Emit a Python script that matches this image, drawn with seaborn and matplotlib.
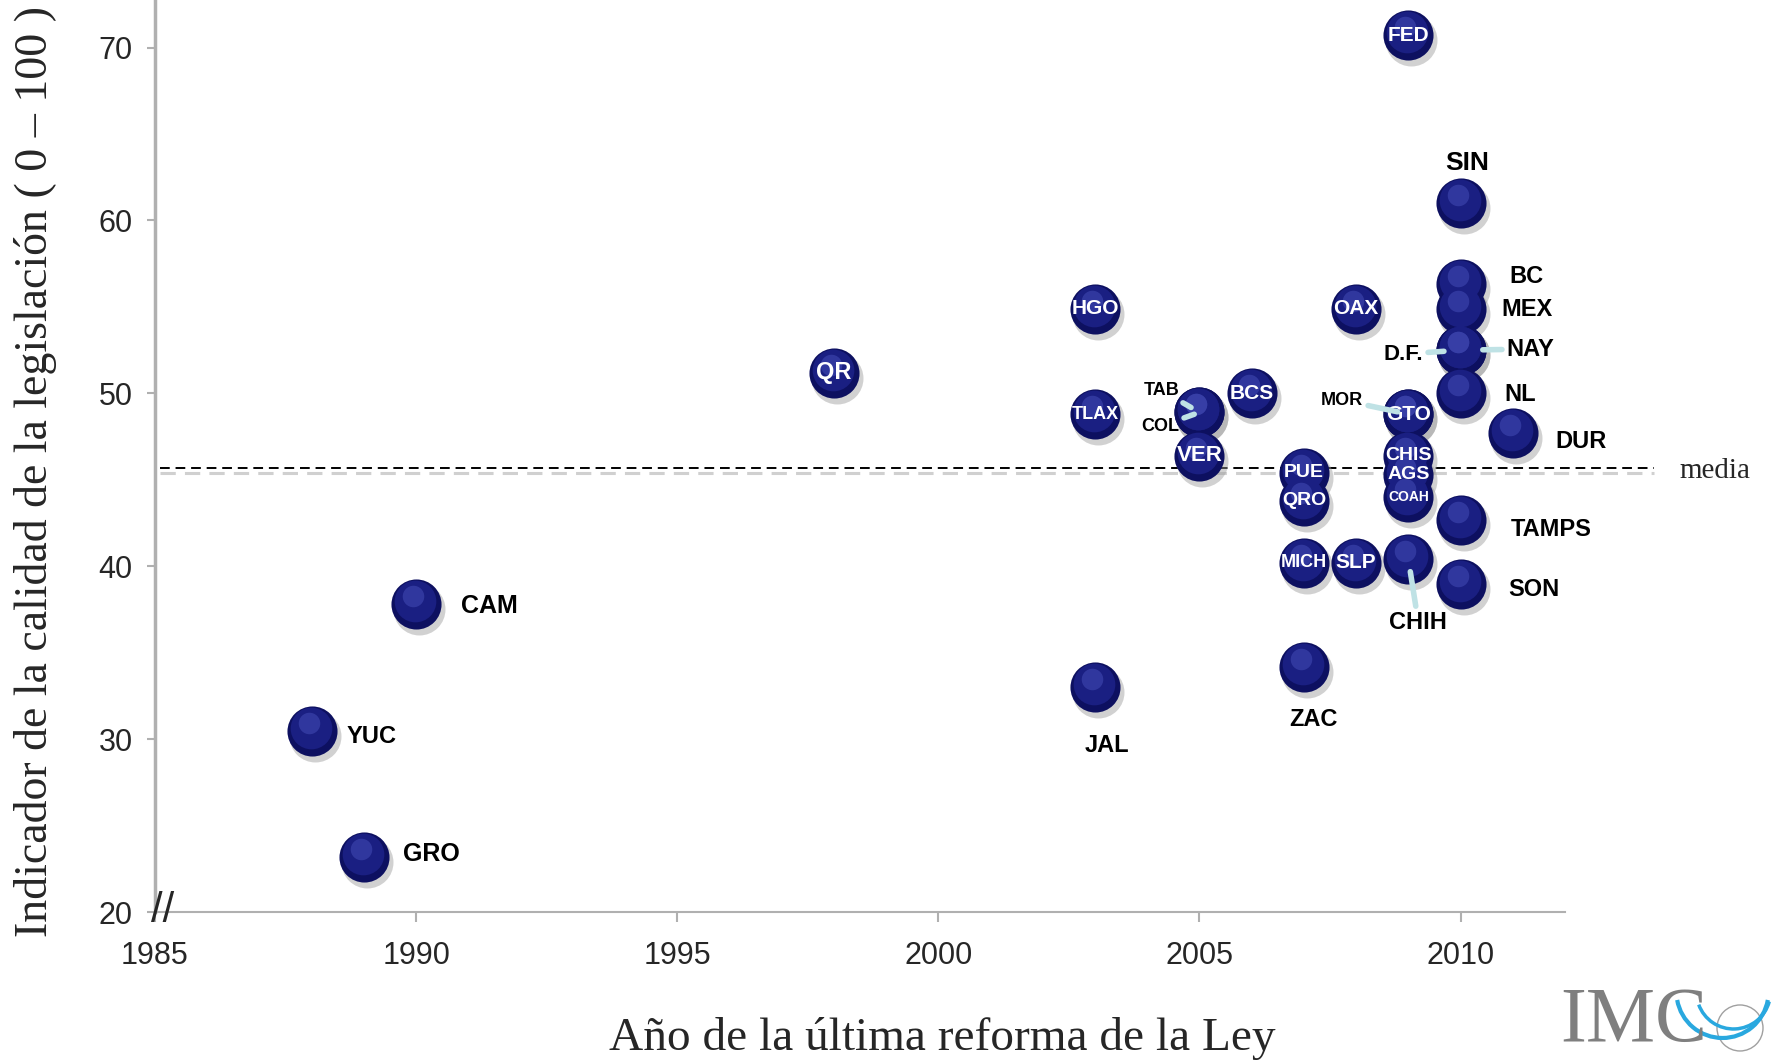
import numpy as np
import pandas as pd
import matplotlib
matplotlib.use("Agg")
import matplotlib.pyplot as plt
import seaborn as sns
from matplotlib.transforms import offset_copy
from matplotlib.patches import Arc, Circle

# data
states = ["FED", "SIN", "BC", "MEX", "HGO", "OAX", "NAY", "D.F.", "QR", "NL", "BCS",
          "TAB", "COL", "TLAX", "GTO", "MOR", "DUR", "VER", "CHIS", "PUE", "AGS",
          "COAH", "QRO", "TAMPS", "CHIH", "MICH", "SLP", "SON", "CAM", "ZAC", "JAL",
          "YUC", "GRO"]
years = [2009, 2010, 2010, 2010, 2003, 2008, 2010, 2010, 1998, 2010, 2006,
         2005, 2005, 2003, 2009, 2009, 2011, 2005, 2009, 2007, 2009,
         2009, 2007, 2010, 2009, 2007, 2008, 2010, 1990, 2007, 2003,
         1988, 1989]
scores = [70.7, 61.0, 56.3, 54.9, 54.9, 54.9, 52.5, 52.5, 51.2, 50.0, 50.0,
          48.9, 48.9, 48.8, 48.8, 48.8, 47.7, 46.4, 46.4, 45.4, 45.3,
          44.0, 43.8, 42.7, 40.4, 40.2, 40.2, 39.0, 37.8, 34.2, 33.0,
          30.5, 23.2]
media = 45.7

# labels drawn inside the bubbles (font size)
inner = {"FED": 15, "HGO": 15, "OAX": 15, "QR": 17, "BCS": 15, "TLAX": 13, "GTO": 15,
         "VER": 16, "CHIS": 14, "PUE": 14, "AGS": 14, "COAH": 10, "QRO": 14,
         "MICH": 13, "SLP": 15}
# labels outside: offset in pixels, font size
outer = {"SIN": (7, 40, 19), "BC": (66, 8, 17), "MEX": (66, -1, 17),
         "NAY": (70, 1, 17), "D.F.": (-57, -4, 16), "NL": (60, -1, 17),
         "DUR": (68, -8, 17), "TAMPS": (91, -10, 17), "SON": (73, -6, 17),
         "CHIH": (10, -63, 17), "CAM": (73, -2, 18), "ZAC": (10, -53, 17),
         "JAL": (12, -58, 17), "YUC": (60, -6, 17), "GRO": (68, 3, 18),
         "TAB": (-38, 22, 13), "COL": (-39, -14, 13), "MOR": (-66, 14, 13)}
# leader lines: how far (points) they stop short of the bubble centre
connectors = {"NAY": 16, "D.F.": 12, "TAB": 7, "COL": 4, "MOR": 8, "CHIH": 9}

df = pd.DataFrame({"estado": states, "anio": years, "indicador": scores})
df = df.sort_values("indicador", ascending=False, kind="stable")

sns.set_style("white")
narrow = ["Liberation Sans Narrow", "Liberation Sans", "DejaVu Sans"]
plt.rcParams["font.family"] = narrow

fig = plt.figure(figsize=(17.75, 10.62), dpi=100)
ax = fig.add_axes([0.0873, 0.1412, 0.7944, 0.8588])

# bubbles with a simple sphere look
shadow = offset_copy(ax.transData, fig=fig, x=3, y=-5, units="dots")
sns.scatterplot(data=df, x="anio", y="indicador", s=1400, color="#9a9a9a", alpha=0.45,
                linewidth=0, ax=ax, transform=shadow, legend=False, zorder=2)
sns.scatterplot(data=df, x="anio", y="indicador", s=1300, color="#0d1060",
                linewidth=0, ax=ax, legend=False, zorder=3)
mid = offset_copy(ax.transData, fig=fig, x=-1, y=3, units="dots")
ax.scatter(df["anio"], df["indicador"], s=900, color="#1a1f82", linewidth=0,
           transform=mid, zorder=3)
hi = offset_copy(ax.transData, fig=fig, x=-3, y=8, units="dots")
ax.scatter(df["anio"], df["indicador"], s=240, color="#3a42aa", alpha=0.7,
           linewidth=0, transform=hi, zorder=3)

for _, r in df.iterrows():
    name = r["estado"]
    if name in inner:
        ax.text(r["anio"], r["indicador"], name, color="white", fontsize=inner[name],
                fontweight="bold", ha="center", va="center", zorder=4)
    elif name in outer:
        dx, dy, fs = outer[name]
        props = None
        if name in connectors:
            props = dict(arrowstyle="-", color="#bfe2e5", lw=4, shrinkA=1,
                         shrinkB=connectors[name])
        ax.annotate(name, (r["anio"], r["indicador"]), xytext=(dx, dy),
                    textcoords="offset pixels", fontsize=fs, fontweight="bold",
                    ha="center", va="center", color="black", arrowprops=props,
                    zorder=5)

# media line
ax.plot([1985.1, 2013.7], [media, media], color="black", lw=1.4,
        dashes=(5, 3), clip_on=False, zorder=1)
ax.plot([1985.1, 2013.7], [media - 0.3, media - 0.3], color="#d0d0d0", lw=2.2,
        dashes=(5, 3), clip_on=False, zorder=1)
ax.text(2014.2, media - 0.2, "media", fontsize=21, family="Liberation Serif",
        ha="left", va="center")

ax.set_xlim(1985, 2012)
ax.set_ylim(20, 72.75)
ax.set_xticks(range(1985, 2011, 5))
ax.set_yticks(range(20, 71, 10))
ax.set_xlabel("")
ax.set_ylabel("")
for s in ["top", "right"]:
    ax.spines[s].set_visible(False)
for s in ["left", "bottom"]:
    ax.spines[s].set_color("#b0b0b0")
ax.spines["left"].set_linewidth(2.5)
ax.spines["bottom"].set_linewidth(1.5)
ax.tick_params(axis="x", length=7, width=1.5, color="#b0b0b0", pad=14, labelsize=22)
ax.tick_params(axis="y", length=6, width=1.5, color="#b0b0b0", pad=10, labelsize=22)
ax.tick_params(bottom=True, left=True)

# axis break mark
ax.text(1985.15, 20.05, "//", fontsize=30, ha="center", va="center", clip_on=False,
        zorder=6)

fig.text(0.531, 0.022, "Año de la última reforma de la Ley", fontsize=34,
         family="Liberation Serif", ha="center", va="center")
fig.text(0.02, 0.556, "Indicador de la calidad de la legislación ( 0 – 100 )",
         fontsize=33, family="Liberation Serif", rotation=90, ha="center", va="center")

# logo
fig.text(0.879, 0.004, "IMC", fontsize=56, family="Liberation Serif", color="#7f7f7f",
         ha="left", va="bottom")
lax = fig.add_axes([0.82, 0.0, 0.18, 0.12])
lax.set_xlim(0, 319.5)
lax.set_ylim(0, 127.4)
lax.set_aspect("equal")
lax.axis("off")
lax.add_patch(Circle((284.5, 34), 23, fill=False, ec="#a0a0a0", lw=1))
lax.add_patch(Arc((267, 70), 92, 92, theta1=190, theta2=350, color="#29a8df", lw=3))
lax.add_patch(Arc((278, 70), 74, 74, theta1=200, theta2=345, color="#29a8df", lw=2.5))

fig.savefig("out.png", dpi=100)
